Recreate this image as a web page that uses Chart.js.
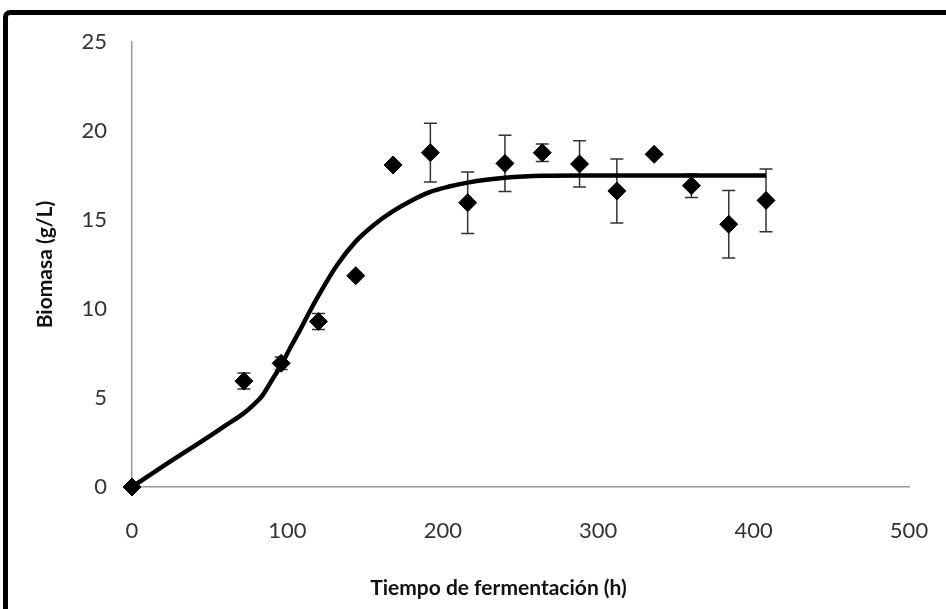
<!DOCTYPE html>
<html>
<head>
<meta charset="utf-8">
<script src="https://cdn.jsdelivr.net/npm/chart.js@4"></script>
<style>
  html, body { margin: 0; padding: 0; background: #fff; overflow: hidden; }
  #wrap { position: relative; width: 946px; height: 609px; overflow: hidden; }
  #frame {
    position: absolute; left: 3px; top: 10px; width: 1100px; height: 800px;
    border: 5px solid #000; border-radius: 7px; box-sizing: border-box;
  }
  #c { position: absolute; left: 0; top: 0; }
</style>
</head>
<body>
<div id="wrap">
  <div id="frame"></div>
  <canvas id="c" width="946" height="609"></canvas>
</div>
<script>
// measured points (h, g/L) and their error
const tiempo  = [0, 72, 96, 120, 144, 168, 192, 216, 240, 264, 288, 312, 336, 360, 384, 408];
const biomasa = [0, 5.95, 6.95, 9.3, 11.87, 18.09, 18.78, 15.97, 18.18, 18.78, 18.15, 16.63, 18.69, 16.93, 14.76, 16.1];
const errorBio = [0, 0.45, 0.35, 0.45, 0, 0, 1.65, 1.73, 1.58, 0.49, 1.3, 1.8, 0, 0.66, 1.9, 1.76];

// fitted model curve
const modeloT = [0, 24, 48, 60, 72, 78, 84, 90, 96, 102, 108, 114, 120, 132, 144, 156, 168, 180, 192, 204, 216, 228, 240, 252, 264, 288, 312, 336, 360, 384, 408];
const modeloY = [0, 1.4, 2.75, 3.45, 4.15, 4.6, 5.15, 6.0, 6.85, 7.85, 8.8, 9.8, 10.75, 12.47, 13.8, 14.75, 15.5, 16.1, 16.58, 16.88, 17.1, 17.26, 17.37, 17.44, 17.48, 17.5, 17.5, 17.5, 17.5, 17.5, 17.5];

const xTicks = [0, 100, 200, 300, 400, 500];
const yTicks = [0, 5, 10, 15, 20, 25];

const xTitle = 'Tiempo de fermentación (h)';
const yTitle = 'Biomasa (g/L)';

const medidos = tiempo.map((t, i) => ({ x: t, y: biomasa[i] }));
const modelo = modeloT.map((t, i) => ({ x: t, y: modeloY[i] }));

// error bars + axis titles
const extras = {
    id: 'extras',
    beforeDatasetsDraw(chart) {
        const ctx = chart.ctx;
        const xs = chart.scales.x, ys = chart.scales.y;
        ctx.save();
        ctx.strokeStyle = '#333';
        ctx.lineWidth = 1.5;
        tiempo.forEach((t, i) => {
            const e = errorBio[i];
            if (!e) return;
            const px = xs.getPixelForValue(t);
            const top = ys.getPixelForValue(biomasa[i] + e);
            const bot = ys.getPixelForValue(biomasa[i] - e);
            ctx.beginPath();
            ctx.moveTo(px, top); ctx.lineTo(px, bot);
            ctx.moveTo(px - 6.5, top); ctx.lineTo(px + 6.5, top);
            ctx.moveTo(px - 6.5, bot); ctx.lineTo(px + 6.5, bot);
            ctx.stroke();
        });
        ctx.restore();
    },
    afterDraw(chart) {
        const ctx = chart.ctx;
        const a = chart.chartArea;
        ctx.save();
        ctx.fillStyle = '#111';
        ctx.font = 'bold 21px Lato';
        ctx.textAlign = 'center';
        ctx.textBaseline = 'alphabetic';
        ctx.fillText(xTitle, (a.left + a.right) / 2 - 22, 595);
        ctx.translate(52, (a.top + a.bottom) / 2);
        ctx.rotate(-Math.PI / 2);
        ctx.fillText(yTitle, 0, 0);
        ctx.restore();
    }
};

new Chart(document.getElementById('c'), {
    type: 'scatter',
    data: {
        datasets: [
            {
                label: 'Modelo',
                data: modelo,
                showLine: true,
                borderColor: '#000',
                borderWidth: 4.5,
                pointRadius: 0,
                cubicInterpolationMode: 'monotone',
                clip: false,
                order: 2
            },
            {
                label: 'Experimental',
                data: medidos,
                pointStyle: 'rectRot',
                pointRadius: 9,
                backgroundColor: '#000',
                borderColor: '#000',
                borderWidth: 1,
                clip: false,
                order: 1
            }
        ]
    },
    options: {
        responsive: false,
        animation: false,
        layout: { padding: { top: 42, right: 37, bottom: 0, left: 0 } },
        plugins: {
            legend: { display: false },
            tooltip: { enabled: false }
        },
        scales: {
            x: {
                type: 'linear',
                min: 0,
                max: 500,
                afterFit: s => { s.height = 122; s.paddingLeft = 0; s.paddingRight = 0; },
                afterBuildTicks: s => { s.ticks = xTicks.map(v => ({ value: v })); },
                grid: { display: false, drawTicks: false },
                border: { display: true, color: '#999', width: 1.5 },
                ticks: {
                    padding: 31,
                    color: '#333',
                    font: { family: 'Lato', size: 22 }
                }
            },
            y: {
                min: 0,
                max: 25,
                afterFit: s => { s.width = 132; s.paddingTop = 0; s.paddingBottom = 0; },
                afterBuildTicks: s => { s.ticks = yTicks.map(v => ({ value: v })); },
                grid: { display: false, drawTicks: false },
                border: { display: true, color: '#999', width: 1.5 },
                ticks: {
                    padding: 25,
                    color: '#333',
                    font: { family: 'Lato', size: 22 }
                }
            }
        }
    },
    plugins: [extras]
});
</script>
</body>
</html>
